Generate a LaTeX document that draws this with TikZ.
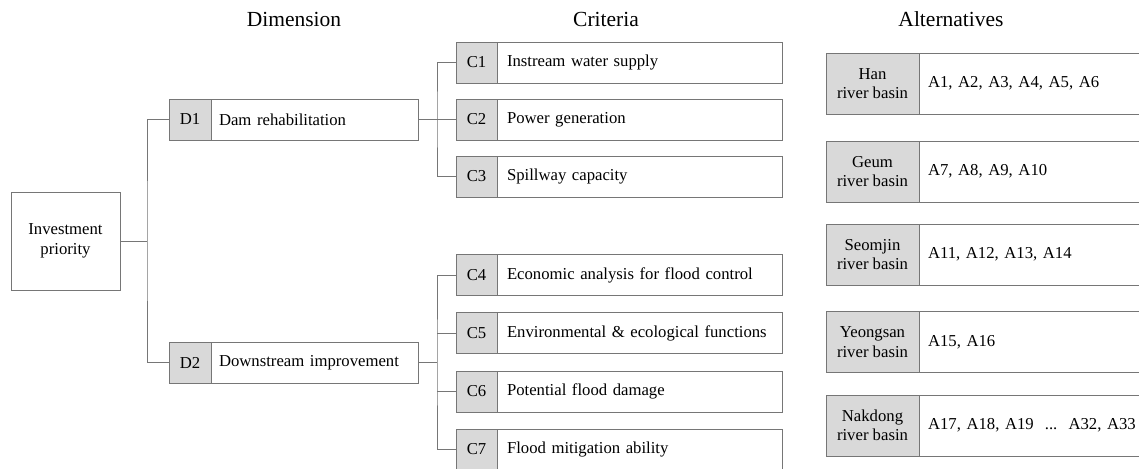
\documentclass[tikz,border=0pt]{standalone}
\usepackage{fontspec}
\setmainfont{Liberation Serif}
\definecolor{lc}{RGB}{118,118,118}
\definecolor{gfill}{RGB}{217,217,217}
\begin{document}
\begin{tikzpicture}[x=1pt,y=-1pt,
  every node/.style={font=\fontsize{16.7}{19.5}\selectfont, inner sep=0pt, outer sep=0pt},
  box/.style={draw=lc, line width=0.8pt},
  glab/.style={box, fill=gfill, minimum width=#1, minimum height=41pt, align=center},
  wtxt/.style={box, fill=white, minimum height=41pt, text width=#1, align=left, anchor=west},
  alab/.style={box, fill=gfill, minimum width=93pt, minimum height=61pt, align=center},
  atxt/.style={box, fill=white, minimum height=61pt, inner xsep=9pt, text width=222pt, align=left, anchor=west},
  head/.style={font=\fontsize{21.5}{24}\selectfont, anchor=base},
  conn/.style={draw=lc, line width=0.8pt}
]
\clip (0,0) rectangle (1139,468);
\fill[white] (0,0) rectangle (1139,468);

% headers
\node[head] (hdim) at (294,27) {Dimension};
\node[head] (hcri) at (606,27) {Criteria};
\node[head] (halt) at (951,27) {Alternatives};

% goal
\node[box, fill=white, minimum width=109pt, minimum height=98pt, align=center] (ip) at (65.5,241) {Investment\\priority};

% dimensions
\node[glab=42pt] (d1l) at (190,119.5) {D1};
\node[wtxt=191pt, inner xsep=8pt] (d1t) at (211,119.5) {Dam rehabilitation};
\node[glab=42pt] (d2l) at (190,362.5) {D2};
\node[wtxt=191pt, inner xsep=8pt] (d2t) at (211,362.5) {Downstream improvement};

% criteria
\node[glab=41pt] (c1l) at (476.5,62.5) {C1};
\node[wtxt=265pt, inner xsep=10pt] (c1t) at (497,62.5) {Instream water supply};
\node[glab=41pt] (c2l) at (476.5,119.5) {C2};
\node[wtxt=265pt, inner xsep=10pt] (c2t) at (497,119.5) {Power generation};
\node[glab=41pt] (c3l) at (476.5,176.5) {C3};
\node[wtxt=265pt, inner xsep=10pt] (c3t) at (497,176.5) {Spillway capacity};
\node[glab=41pt] (c4l) at (476.5,275) {C4};
\node[wtxt=265pt, inner xsep=10pt] (c4t) at (497,275) {Economic analysis for flood control};
\node[glab=41pt] (c5l) at (476.5,333) {C5};
\node[wtxt=265pt, inner xsep=10pt] (c5t) at (497,333) {Environmental \& ecological functions};
\node[glab=41pt] (c6l) at (476.5,391.5) {C6};
\node[wtxt=265pt, inner xsep=10pt] (c6t) at (497,391.5) {Potential flood damage};
\node[glab=41pt] (c7l) at (476.5,449.5) {C7};
\node[wtxt=265pt, inner xsep=10pt] (c7t) at (497,449.5) {Flood mitigation ability};

% alternatives
\node[alab] (a1l) at (872.5,83.5) {Han\\river basin};
\node[atxt] (a1t) at (919,83.5) {A1, A2, A3, A4, A5, A6};
\node[alab] (a2l) at (872.5,171.5) {Geum\\river basin};
\node[atxt] (a2t) at (919,171.5) {A7, A8, A9, A10};
\node[alab] (a3l) at (872.5,254.5) {Seomjin\\river basin};
\node[atxt] (a3t) at (919,254.5) {A11, A12, A13, A14};
\node[alab] (a4l) at (872.5,342) {Yeongsan\\river basin};
\node[atxt] (a4t) at (919,342) {A15, A16};
\node[alab] (a5l) at (872.5,425.5) {Nakdong\\river basin};
\node[atxt] (a5t) at (919,425.5) {A17, A18, A19\ \ ...\ \ A32, A33};

% connectors
\coordinate (b1) at (147,241);
\coordinate (b2) at (437,119.5);
\coordinate (b3) at (437,362.5);
\draw[conn] (ip.east) -- (b1);
\draw[conn] (d1l.west) -| (b1) |- (d2l.west);
\draw[conn] (d1t.east) -- (b2);
\draw[conn] (c1l.west) -| (b2) |- (c3l.west);
\draw[conn] (c2l.west) -- (b2);
\draw[conn] (d2t.east) -- (b3);
\draw[conn] (c4l.west) -| (b3) |- (c7l.west);
\draw[conn] (c5l.west) -- (c5l.west -| b3);
\draw[conn] (c6l.west) -- (c6l.west -| b3);
\end{tikzpicture}
\end{document}
